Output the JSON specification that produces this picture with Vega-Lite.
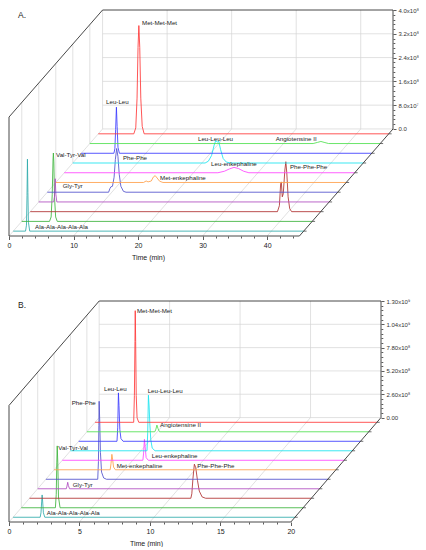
{
"$schema":"https://vega.github.io/schema/vega-lite/v6.json",
"padding":{"left":7,"top":7,"right":0,"bottom":0},
"bounds":"flush",
"spacing":65,
"config":{"view":{"stroke":null},"font":"Liberation Sans"},
"datasets":{
"A":[
{"kind":"edge","s":"e1","t":0,"i":0,"z":0},{"kind":"edge","s":"e1","t":45,"i":0,"z":0},
{"kind":"edge","s":"e2","t":0,"i":0,"z":0},{"kind":"edge","s":"e2","t":0,"i":4e8,"z":0},
{"kind":"edge","s":"e3","t":0,"i":4e8,"z":0},{"kind":"edge","s":"e3","t":0,"i":4e8,"z":1},
{"kind":"edge","s":"e4","t":0,"i":4e8,"z":1},{"kind":"edge","s":"e4","t":45,"i":4e8,"z":1},
{"kind":"edge","s":"e5","t":45,"i":0,"z":1},{"kind":"edge","s":"e5","t":45,"i":4e8,"z":1},
{"kind":"edge","s":"e6","t":45,"i":0,"z":0},{"kind":"edge","s":"e6","t":45,"i":0,"z":1},
{"kind":"grid","s":"f0","t":0,"i":0,"z":0},{"kind":"grid","s":"f0","t":0,"i":0,"z":1},
{"kind":"grid","s":"f10","t":10,"i":0,"z":0},{"kind":"grid","s":"f10","t":10,"i":0,"z":1},
{"kind":"grid","s":"f20","t":20,"i":0,"z":0},{"kind":"grid","s":"f20","t":20,"i":0,"z":1},
{"kind":"grid","s":"f30","t":30,"i":0,"z":0},{"kind":"grid","s":"f30","t":30,"i":0,"z":1},
{"kind":"grid","s":"f40","t":40,"i":0,"z":0},{"kind":"grid","s":"f40","t":40,"i":0,"z":1},
{"kind":"grid","s":"v0","t":0,"i":0,"z":1},{"kind":"grid","s":"v0","t":0,"i":4e8,"z":1},
{"kind":"grid","s":"v10","t":10,"i":0,"z":1},{"kind":"grid","s":"v10","t":10,"i":4e8,"z":1},
{"kind":"grid","s":"v20","t":20,"i":0,"z":1},{"kind":"grid","s":"v20","t":20,"i":4e8,"z":1},
{"kind":"grid","s":"v30","t":30,"i":0,"z":1},{"kind":"grid","s":"v30","t":30,"i":4e8,"z":1},
{"kind":"grid","s":"v40","t":40,"i":0,"z":1},{"kind":"grid","s":"v40","t":40,"i":4e8,"z":1},
{"kind":"grid","s":"h0","t":0,"i":0,"z":1},{"kind":"grid","s":"h0","t":45,"i":0,"z":1},
{"kind":"grid","s":"h1","t":0,"i":8e7,"z":1},{"kind":"grid","s":"h1","t":45,"i":8e7,"z":1},
{"kind":"grid","s":"h2","t":0,"i":1.6e8,"z":1},{"kind":"grid","s":"h2","t":45,"i":1.6e8,"z":1},
{"kind":"grid","s":"h3","t":0,"i":2.4e8,"z":1},{"kind":"grid","s":"h3","t":45,"i":2.4e8,"z":1},
{"kind":"grid","s":"h4","t":0,"i":3.2e8,"z":1},{"kind":"grid","s":"h4","t":45,"i":3.2e8,"z":1},
{"kind":"grid","s":"w1","t":0,"i":0,"k":1},{"kind":"grid","s":"w1","t":0,"i":4e8,"k":1},
{"kind":"grid","s":"w3","t":0,"i":0,"k":3},{"kind":"grid","s":"w3","t":0,"i":4e8,"k":3},
{"kind":"grid","s":"w5","t":0,"i":0,"k":5},{"kind":"grid","s":"w5","t":0,"i":4e8,"k":5},
{"kind":"grid","s":"w7","t":0,"i":0,"k":7},{"kind":"grid","s":"w7","t":0,"i":4e8,"k":7},
{"kind":"grid","s":"w9","t":0,"i":0,"k":9},{"kind":"grid","s":"w9","t":0,"i":4e8,"k":9},
{"kind":"tr","k":0,"t":0,"i":0},{"kind":"tr","k":0,"t":1.9,"i":0},{"kind":"tr","k":0,"t":2.05,"i":2e7},{"kind":"tr","k":0,"t":2.13,"i":1.2e8},{"kind":"tr","k":0,"t":2.2,"i":2.42e8},{"kind":"tr","k":0,"t":2.27,"i":1.3e8},{"kind":"tr","k":0,"t":2.35,"i":3e7},{"kind":"tr","k":0,"t":2.55,"i":0},{"kind":"tr","k":0,"t":45,"i":0},
{"kind":"tr","k":1,"t":0,"i":0},{"kind":"tr","k":1,"t":4.3,"i":0},{"kind":"tr","k":1,"t":4.55,"i":1.5e7},{"kind":"tr","k":1,"t":4.72,"i":9e7},{"kind":"tr","k":1,"t":4.85,"i":2.1e8},{"kind":"tr","k":1,"t":4.9,"i":2.3e8},{"kind":"tr","k":1,"t":4.97,"i":2.0e8},{"kind":"tr","k":1,"t":5.08,"i":8e7},{"kind":"tr","k":1,"t":5.25,"i":1.5e7},{"kind":"tr","k":1,"t":5.5,"i":0},{"kind":"tr","k":1,"t":45,"i":0},
{"kind":"tr","k":2,"t":0,"i":0},{"kind":"tr","k":2,"t":38.3,"i":0},{"kind":"tr","k":2,"t":38.6,"i":2e7},{"kind":"tr","k":2,"t":38.8,"i":9.5e7},{"kind":"tr","k":2,"t":38.9,"i":1.0e8},{"kind":"tr","k":2,"t":39.05,"i":5e7},{"kind":"tr","k":2,"t":39.2,"i":6e7},{"kind":"tr","k":2,"t":39.45,"i":1.4e8},{"kind":"tr","k":2,"t":39.6,"i":1.68e8},{"kind":"tr","k":2,"t":39.75,"i":1.3e8},{"kind":"tr","k":2,"t":39.95,"i":5e7},{"kind":"tr","k":2,"t":40.2,"i":1e7},{"kind":"tr","k":2,"t":40.5,"i":0},{"kind":"tr","k":2,"t":45,"i":0},
{"kind":"tr","k":3,"t":0,"i":0},{"kind":"tr","k":3,"t":2.3,"i":0},{"kind":"tr","k":3,"t":2.45,"i":2e7},{"kind":"tr","k":3,"t":2.55,"i":7.8e7},{"kind":"tr","k":3,"t":2.65,"i":2.5e7},{"kind":"tr","k":3,"t":2.8,"i":0},{"kind":"tr","k":3,"t":45,"i":0},
{"kind":"tr","k":4,"t":0,"i":0},{"kind":"tr","k":4,"t":9.5,"i":0},{"kind":"tr","k":4,"t":9.7,"i":1.2e7},{"kind":"tr","k":4,"t":9.85,"i":1.8e7},{"kind":"tr","k":4,"t":10.1,"i":2e7},{"kind":"tr","k":4,"t":10.35,"i":5e7},{"kind":"tr","k":4,"t":10.55,"i":1.1e8},{"kind":"tr","k":4,"t":10.75,"i":1.47e8},{"kind":"tr","k":4,"t":10.95,"i":1.2e8},{"kind":"tr","k":4,"t":11.15,"i":6e7},{"kind":"tr","k":4,"t":11.4,"i":2e7},{"kind":"tr","k":4,"t":11.8,"i":3e6},{"kind":"tr","k":4,"t":12.2,"i":0},{"kind":"tr","k":4,"t":45,"i":0},
{"kind":"tr","k":5,"t":0,"i":0},{"kind":"tr","k":5,"t":13.6,"i":0},{"kind":"tr","k":5,"t":14.0,"i":5e6},{"kind":"tr","k":5,"t":14.3,"i":2e6},{"kind":"tr","k":5,"t":14.8,"i":5e6},{"kind":"tr","k":5,"t":15.1,"i":1.8e7},{"kind":"tr","k":5,"t":15.4,"i":2.3e7},{"kind":"tr","k":5,"t":15.7,"i":1.5e7},{"kind":"tr","k":5,"t":16.1,"i":4e6},{"kind":"tr","k":5,"t":16.6,"i":0},{"kind":"tr","k":5,"t":45,"i":0},
{"kind":"tr","k":6,"t":0,"i":0},{"kind":"tr","k":6,"t":23.8,"i":0},{"kind":"tr","k":6,"t":24.8,"i":5e6},{"kind":"tr","k":6,"t":25.6,"i":1.3e7},{"kind":"tr","k":6,"t":26.3,"i":1.8e7},{"kind":"tr","k":6,"t":27.0,"i":1.4e7},{"kind":"tr","k":6,"t":27.8,"i":5e6},{"kind":"tr","k":6,"t":28.6,"i":0},{"kind":"tr","k":6,"t":45,"i":0},
{"kind":"tr","k":7,"t":0,"i":0},{"kind":"tr","k":7,"t":20.5,"i":0},{"kind":"tr","k":7,"t":21.0,"i":6e6},{"kind":"tr","k":7,"t":21.5,"i":2.5e7},{"kind":"tr","k":7,"t":21.9,"i":6e7},{"kind":"tr","k":7,"t":22.15,"i":7.6e7},{"kind":"tr","k":7,"t":22.4,"i":7e7},{"kind":"tr","k":7,"t":22.6,"i":7.4e7},{"kind":"tr","k":7,"t":22.9,"i":4.5e7},{"kind":"tr","k":7,"t":23.3,"i":1.5e7},{"kind":"tr","k":7,"t":23.8,"i":3e6},{"kind":"tr","k":7,"t":24.5,"i":0},{"kind":"tr","k":7,"t":45,"i":0},
{"kind":"tr","k":8,"t":0,"i":0},{"kind":"tr","k":8,"t":5.05,"i":0},{"kind":"tr","k":8,"t":5.2,"i":1.5e7},{"kind":"tr","k":8,"t":5.32,"i":8e7},{"kind":"tr","k":8,"t":5.44,"i":1.55e8},{"kind":"tr","k":8,"t":5.55,"i":9e7},{"kind":"tr","k":8,"t":5.68,"i":2e7},{"kind":"tr","k":8,"t":5.9,"i":0},{"kind":"tr","k":8,"t":45,"i":0},
{"kind":"tr","k":9,"t":0,"i":0},{"kind":"tr","k":9,"t":34.6,"i":0},{"kind":"tr","k":9,"t":35.3,"i":4e6},{"kind":"tr","k":9,"t":35.8,"i":7e6},{"kind":"tr","k":9,"t":36.3,"i":4e6},{"kind":"tr","k":9,"t":37.0,"i":0},{"kind":"tr","k":9,"t":45,"i":0},
{"kind":"tr","k":10,"t":0,"i":0},{"kind":"tr","k":10,"t":5.5,"i":0},{"kind":"tr","k":10,"t":5.8,"i":2e7},{"kind":"tr","k":10,"t":6.0,"i":1.2e8},{"kind":"tr","k":10,"t":6.15,"i":2.9e8},{"kind":"tr","k":10,"t":6.28,"i":3.64e8},{"kind":"tr","k":10,"t":6.42,"i":2.9e8},{"kind":"tr","k":10,"t":6.58,"i":1.2e8},{"kind":"tr","k":10,"t":6.8,"i":2.5e7},{"kind":"tr","k":10,"t":7.1,"i":0},{"kind":"tr","k":10,"t":45,"i":0},
{"kind":"lab","name":"Met-Met-Met","t":20.61,"i":7.16e8,"z":0},
{"kind":"lab","name":"Leu-Leu","t":15.03,"i":4.51e8,"z":0},
{"kind":"lab","name":"Leu-Leu-Leu","t":29.28,"i":3.26e8,"z":0},
{"kind":"lab","name":"Angiotensine II","t":41.32,"i":3.26e8,"z":0},
{"kind":"lab","name":"Leu-enkephaline","t":31.3,"i":2.41e8,"z":0},
{"kind":"lab","name":"Phe-Phe-Phe","t":43.54,"i":2.31e8,"z":0},
{"kind":"lab","name":"Phe-Phe","t":17.66,"i":2.61e8,"z":0},
{"kind":"lab","name":"Met-enkephaline","t":23.4,"i":1.96e8,"z":0},
{"kind":"lab","name":"Val-Tyr-Val","t":7.28,"i":2.72e8,"z":0},
{"kind":"lab","name":"Gly-Tyr","t":8.32,"i":1.68e8,"z":0},
{"kind":"lab","name":"Ala-Ala-Ala-Ala-Ala","t":4.03,"i":3.13e7,"z":0},
{"kind":"pl","name":"A.","t":1.39,"i":7.43e8,"z":0}
],
"B":[
{"kind":"edge","s":"e1","t":0,"i":0,"z":0},{"kind":"edge","s":"e1","t":20,"i":0,"z":0},
{"kind":"edge","s":"e2","t":0,"i":0,"z":0},{"kind":"edge","s":"e2","t":0,"i":1.3e9,"z":0},
{"kind":"edge","s":"e3","t":0,"i":1.3e9,"z":0},{"kind":"edge","s":"e3","t":0,"i":1.3e9,"z":1},
{"kind":"edge","s":"e4","t":0,"i":1.3e9,"z":1},{"kind":"edge","s":"e4","t":20,"i":1.3e9,"z":1},
{"kind":"edge","s":"e5","t":20,"i":0,"z":1},{"kind":"edge","s":"e5","t":20,"i":1.3e9,"z":1},
{"kind":"edge","s":"e6","t":20,"i":0,"z":0},{"kind":"edge","s":"e6","t":20,"i":0,"z":1},
{"kind":"grid","s":"f0","t":0,"i":0,"z":0},{"kind":"grid","s":"f0","t":0,"i":0,"z":1},
{"kind":"grid","s":"f5","t":5,"i":0,"z":0},{"kind":"grid","s":"f5","t":5,"i":0,"z":1},
{"kind":"grid","s":"f10","t":10,"i":0,"z":0},{"kind":"grid","s":"f10","t":10,"i":0,"z":1},
{"kind":"grid","s":"f15","t":15,"i":0,"z":0},{"kind":"grid","s":"f15","t":15,"i":0,"z":1},
{"kind":"grid","s":"v0","t":0,"i":0,"z":1},{"kind":"grid","s":"v0","t":0,"i":1.3e9,"z":1},
{"kind":"grid","s":"v5","t":5,"i":0,"z":1},{"kind":"grid","s":"v5","t":5,"i":1.3e9,"z":1},
{"kind":"grid","s":"v10","t":10,"i":0,"z":1},{"kind":"grid","s":"v10","t":10,"i":1.3e9,"z":1},
{"kind":"grid","s":"v15","t":15,"i":0,"z":1},{"kind":"grid","s":"v15","t":15,"i":1.3e9,"z":1},
{"kind":"grid","s":"h0","t":0,"i":0,"z":1},{"kind":"grid","s":"h0","t":20,"i":0,"z":1},
{"kind":"grid","s":"h1","t":0,"i":2.6e8,"z":1},{"kind":"grid","s":"h1","t":20,"i":2.6e8,"z":1},
{"kind":"grid","s":"h2","t":0,"i":5.2e8,"z":1},{"kind":"grid","s":"h2","t":20,"i":5.2e8,"z":1},
{"kind":"grid","s":"h3","t":0,"i":7.8e8,"z":1},{"kind":"grid","s":"h3","t":20,"i":7.8e8,"z":1},
{"kind":"grid","s":"h4","t":0,"i":1.04e9,"z":1},{"kind":"grid","s":"h4","t":20,"i":1.04e9,"z":1},
{"kind":"grid","s":"w1","t":0,"i":0,"k":1},{"kind":"grid","s":"w1","t":0,"i":1.3e9,"k":1},
{"kind":"grid","s":"w3","t":0,"i":0,"k":3},{"kind":"grid","s":"w3","t":0,"i":1.3e9,"k":3},
{"kind":"grid","s":"w5","t":0,"i":0,"k":5},{"kind":"grid","s":"w5","t":0,"i":1.3e9,"k":5},
{"kind":"grid","s":"w7","t":0,"i":0,"k":7},{"kind":"grid","s":"w7","t":0,"i":1.3e9,"k":7},
{"kind":"grid","s":"w9","t":0,"i":0,"k":9},{"kind":"grid","s":"w9","t":0,"i":1.3e9,"k":9},
{"kind":"tr","k":0,"t":0,"i":0},{"kind":"tr","k":0,"t":1.92,"i":0},{"kind":"tr","k":0,"t":1.98,"i":5e7},{"kind":"tr","k":0,"t":2.03,"i":1.8e8},{"kind":"tr","k":0,"t":2.06,"i":2.49e8},{"kind":"tr","k":0,"t":2.1,"i":1.7e8},{"kind":"tr","k":0,"t":2.15,"i":5e7},{"kind":"tr","k":0,"t":2.25,"i":0},{"kind":"tr","k":0,"t":20,"i":0},
{"kind":"tr","k":1,"t":0,"i":0},{"kind":"tr","k":1,"t":2.42,"i":0},{"kind":"tr","k":1,"t":2.48,"i":1.5e8},{"kind":"tr","k":1,"t":2.52,"i":5e8},{"kind":"tr","k":1,"t":2.55,"i":6.9e8},{"kind":"tr","k":1,"t":2.59,"i":5e8},{"kind":"tr","k":1,"t":2.64,"i":1.2e8},{"kind":"tr","k":1,"t":2.75,"i":0},{"kind":"tr","k":1,"t":20,"i":0},
{"kind":"tr","k":2,"t":0,"i":0},{"kind":"tr","k":2,"t":11.45,"i":0},{"kind":"tr","k":2,"t":11.52,"i":5e7},{"kind":"tr","k":2,"t":11.6,"i":2.2e8},{"kind":"tr","k":2,"t":11.7,"i":3.8e8},{"kind":"tr","k":2,"t":11.8,"i":3.4e8},{"kind":"tr","k":2,"t":11.92,"i":2.0e8},{"kind":"tr","k":2,"t":12.05,"i":8e7},{"kind":"tr","k":2,"t":12.25,"i":1.5e7},{"kind":"tr","k":2,"t":12.5,"i":0},{"kind":"tr","k":2,"t":20,"i":0},
{"kind":"tr","k":3,"t":0,"i":0},{"kind":"tr","k":3,"t":2.03,"i":0},{"kind":"tr","k":3,"t":2.08,"i":3e7},{"kind":"tr","k":3,"t":2.13,"i":7.2e7},{"kind":"tr","k":3,"t":2.18,"i":3.5e7},{"kind":"tr","k":3,"t":2.26,"i":0},{"kind":"tr","k":3,"t":20,"i":0},
{"kind":"tr","k":4,"t":0,"i":0},{"kind":"tr","k":4,"t":3.68,"i":0},{"kind":"tr","k":4,"t":3.73,"i":2e8},{"kind":"tr","k":4,"t":3.76,"i":6e8},{"kind":"tr","k":4,"t":3.78,"i":8.7e8},{"kind":"tr","k":4,"t":3.82,"i":6.5e8},{"kind":"tr","k":4,"t":3.87,"i":3e8},{"kind":"tr","k":4,"t":3.95,"i":8e7},{"kind":"tr","k":4,"t":4.1,"i":1.5e7},{"kind":"tr","k":4,"t":4.3,"i":0},{"kind":"tr","k":4,"t":20,"i":0},
{"kind":"tr","k":5,"t":0,"i":0},{"kind":"tr","k":5,"t":3.98,"i":0},{"kind":"tr","k":5,"t":4.04,"i":7e7},{"kind":"tr","k":5,"t":4.1,"i":1.72e8},{"kind":"tr","k":5,"t":4.15,"i":1.2e8},{"kind":"tr","k":5,"t":4.22,"i":3e7},{"kind":"tr","k":5,"t":4.35,"i":0},{"kind":"tr","k":5,"t":20,"i":0},
{"kind":"tr","k":6,"t":0,"i":0},{"kind":"tr","k":6,"t":5.72,"i":0},{"kind":"tr","k":6,"t":5.77,"i":8e7},{"kind":"tr","k":6,"t":5.83,"i":2.34e8},{"kind":"tr","k":6,"t":5.88,"i":1.5e8},{"kind":"tr","k":6,"t":5.95,"i":3e7},{"kind":"tr","k":6,"t":6.1,"i":0},{"kind":"tr","k":6,"t":20,"i":0},
{"kind":"tr","k":7,"t":0,"i":0},{"kind":"tr","k":7,"t":5.43,"i":0},{"kind":"tr","k":7,"t":5.48,"i":2e8},{"kind":"tr","k":7,"t":5.53,"i":6.2e8},{"kind":"tr","k":7,"t":5.58,"i":5e8},{"kind":"tr","k":7,"t":5.63,"i":3e8},{"kind":"tr","k":7,"t":5.7,"i":1.2e8},{"kind":"tr","k":7,"t":5.8,"i":3e7},{"kind":"tr","k":7,"t":6.0,"i":0},{"kind":"tr","k":7,"t":20,"i":0},
{"kind":"tr","k":8,"t":0,"i":0},{"kind":"tr","k":8,"t":2.72,"i":0},{"kind":"tr","k":8,"t":2.77,"i":1.5e8},{"kind":"tr","k":8,"t":2.82,"i":5.4e8},{"kind":"tr","k":8,"t":2.86,"i":4e8},{"kind":"tr","k":8,"t":2.92,"i":1.3e8},{"kind":"tr","k":8,"t":3.0,"i":3e7},{"kind":"tr","k":8,"t":3.15,"i":0},{"kind":"tr","k":8,"t":20,"i":0},
{"kind":"tr","k":9,"t":0,"i":0},{"kind":"tr","k":9,"t":4.82,"i":0},{"kind":"tr","k":9,"t":4.9,"i":3e7},{"kind":"tr","k":9,"t":4.97,"i":7.5e7},{"kind":"tr","k":9,"t":5.05,"i":3.5e7},{"kind":"tr","k":9,"t":5.15,"i":0},{"kind":"tr","k":9,"t":20,"i":0},
{"kind":"tr","k":10,"t":0,"i":0},{"kind":"tr","k":10,"t":2.74,"i":0},{"kind":"tr","k":10,"t":2.79,"i":3e8},{"kind":"tr","k":10,"t":2.83,"i":9e8},{"kind":"tr","k":10,"t":2.85,"i":1.245e9},{"kind":"tr","k":10,"t":2.88,"i":9e8},{"kind":"tr","k":10,"t":2.92,"i":3e8},{"kind":"tr","k":10,"t":2.98,"i":5e7},{"kind":"tr","k":10,"t":3.1,"i":0},{"kind":"tr","k":10,"t":20,"i":0},
{"kind":"lab","name":"Met-Met-Met","t":9.08,"i":2.353e9,"z":0},
{"kind":"lab","name":"Leu-Leu","t":6.74,"i":1.488e9,"z":0},
{"kind":"lab","name":"Leu-Leu-Leu","t":9.84,"i":1.461e9,"z":0},
{"kind":"lab","name":"Phe-Phe","t":4.45,"i":1.332e9,"z":0},
{"kind":"lab","name":"Angiotensine II","t":10.72,"i":1.079e9,"z":0},
{"kind":"lab","name":"Leu-enkephaline","t":10.13,"i":7.36e8,"z":0},
{"kind":"lab","name":"Met-enkephaline","t":7.64,"i":6.29e8,"z":0},
{"kind":"lab","name":"Phe-Phe-Phe","t":13.36,"i":6.29e8,"z":0},
{"kind":"lab","name":"Val-Tyr-Val","t":3.5,"i":8.3e8,"z":0},
{"kind":"lab","name":"Gly-Tyr","t":4.52,"i":4.13e8,"z":0},
{"kind":"lab","name":"Ala-Ala-Ala-Ala-Ala","t":2.68,"i":1.0e8,"z":0},
{"kind":"pl","name":"B.","t":0.64,"i":2.417e9,"z":0}
]
},
"vconcat":[
{
"width":384,"height":226,
"data":{"name":"A"},
"transform":[
{"calculate":"isValid(datum.z) ? datum.z : (datum.k + 0.5) / 11","as":"zz"},
{"calculate":"datum.t + datum.zz * 14.5","as":"x"},
{"calculate":"datum.i + datum.zz * 3.6e8","as":"y"},
{"calculate":"datum.x + 0.45","as":"x2"}
],
"encoding":{
 "x":{"field":"x","type":"quantitative","scale":{"domain":[0,59.5],"nice":false,"zero":false},
   "axis":{"orient":"bottom","values":[0,2,4,6,8,10,12,14,16,18,20,22,24,26,28,30,32,34,36,38,40,42,44],
   "labelExpr":"datum.value % 10 === 0 ? datum.label : ''","tickSize":{"condition":{"test":"datum.value % 10 === 0","value":3.5},"value":2},
   "domain":false,"grid":false,"tickColor":"#333","tickWidth":0.8,"labelFontSize":7,"labelColor":"#222","labelPadding":2,"labelFlush":false,"labelOverlap":false,
   "title":"Time (min)","titleFontSize":7,"titleFontWeight":"normal","titleColor":"#222","titlePadding":5,"titleX":139}},
 "y":{"field":"y","type":"quantitative","scale":{"domain":[0,7.6e8],"nice":false,"zero":false},
   "axis":{"orient":"right","values":[360000000,376000000,392000000,408000000,424000000,440000000,456000000,472000000,488000000,504000000,520000000,536000000,552000000,568000000,584000000,600000000,616000000,632000000,648000000,664000000,680000000,696000000,712000000,728000000,744000000,760000000],
   "labelExpr":"abs((datum.value-3.6e8)/8e7 - round((datum.value-3.6e8)/8e7)) < 0.01 ? ['0.0','8.0x10⁷','1.6x10⁸','2.4x10⁸','3.2x10⁸','4.0x10⁸'][round((datum.value-3.6e8)/8e7)] : ''",
   "tickSize":{"condition":{"test":"abs((datum.value-3.6e8)/8e7 - round((datum.value-3.6e8)/8e7)) < 0.01","value":3},"value":1.8},
   "domain":false,"grid":false,"tickColor":"#333","tickWidth":0.8,"labelFontSize":6,"labelColor":"#333","labelPadding":2,"labelFlush":false,"labelOverlap":false,"title":null}}
},
"layer":[
{"transform":[{"filter":"datum.kind === 'grid'"}],
 "mark":{"type":"line","stroke":"#d4d4d4","strokeWidth":0.7},
 "encoding":{"detail":{"field":"s"}}},
{"transform":[{"filter":"datum.kind === 'tr'"}],
 "mark":{"type":"line","strokeWidth":0.85},
 "encoding":{"color":{"field":"k","type":"nominal","scale":{"domain":[0,1,2,3,4,5,6,7,8,9,10],"range":["#2fabab","#3cb43c","#b03030","#b04cc0","#5050cc","#ff9f4a","#ff44ff","#18e4f0","#3a3aff","#50e050","#ff3838"]},"legend":null}}},
{"transform":[{"filter":"datum.kind === 'edge'"}],
 "mark":{"type":"line","stroke":"#333","strokeWidth":0.9},
 "encoding":{"detail":{"field":"s"}}},
{"transform":[{"filter":"datum.kind === 'tr' && datum.t === 45"}],
 "mark":{"type":"rule","stroke":"#333","strokeWidth":0.7},
 "encoding":{"x2":{"field":"x2"}}},
{"transform":[{"filter":"datum.kind === 'lab'"}],
 "mark":{"type":"text","align":"left","baseline":"middle","fontSize":6.2,"color":"#222"},
 "encoding":{"text":{"field":"name"}}},
{"transform":[{"filter":"datum.kind === 'pl'"}],
 "mark":{"type":"text","align":"left","baseline":"middle","fontSize":8.5,"color":"#222"},
 "encoding":{"text":{"field":"name"}}}
]
},
{
"width":372,"height":221,
"data":{"name":"B"},
"transform":[
{"calculate":"isValid(datum.z) ? datum.z : (datum.k + 0.5) / 11","as":"zz"},
{"calculate":"datum.t + datum.zz * 6.4","as":"x"},
{"calculate":"datum.i + datum.zz * 1.165e9","as":"y"},
{"calculate":"datum.x + 0.2","as":"x2"}
],
"encoding":{
 "x":{"field":"x","type":"quantitative","scale":{"domain":[0,26.4],"nice":false,"zero":false},
   "axis":{"orient":"bottom","values":[0,1,2,3,4,5,6,7,8,9,10,11,12,13,14,15,16,17,18,19,20],
   "labelExpr":"datum.value % 5 === 0 ? datum.label : ''","tickSize":{"condition":{"test":"datum.value % 5 === 0","value":3.5},"value":2},
   "domain":false,"grid":false,"tickColor":"#333","tickWidth":0.8,"labelFontSize":7,"labelColor":"#222","labelPadding":2,"labelFlush":false,"labelOverlap":false,
   "title":"Time (min)","titleFontSize":7,"titleFontWeight":"normal","titleColor":"#222","titlePadding":5,"titleX":137}},
 "y":{"field":"y","type":"quantitative","scale":{"domain":[0,2.465e9],"nice":false,"zero":false},
   "axis":{"orient":"right","values":[1165000000,1217000000,1269000000,1321000000,1373000000,1425000000,1477000000,1529000000,1581000000,1633000000,1685000000,1737000000,1789000000,1841000000,1893000000,1945000000,1997000000,2049000000,2101000000,2153000000,2205000000,2257000000,2309000000,2361000000,2413000000,2465000000],
   "labelExpr":"abs((datum.value-1.165e9)/2.6e8 - round((datum.value-1.165e9)/2.6e8)) < 0.01 ? ['0.00','2.60x10⁸','5.20x10⁸','7.80x10⁸','1.04x10⁹','1.30x10⁹'][round((datum.value-1.165e9)/2.6e8)] : ''",
   "tickSize":{"condition":{"test":"abs((datum.value-1.165e9)/2.6e8 - round((datum.value-1.165e9)/2.6e8)) < 0.01","value":3},"value":1.8},
   "domain":false,"grid":false,"tickColor":"#333","tickWidth":0.8,"labelFontSize":6,"labelColor":"#333","labelPadding":2,"labelFlush":false,"labelOverlap":false,"title":null}}
},
"layer":[
{"transform":[{"filter":"datum.kind === 'grid'"}],
 "mark":{"type":"line","stroke":"#d4d4d4","strokeWidth":0.7},
 "encoding":{"detail":{"field":"s"}}},
{"transform":[{"filter":"datum.kind === 'tr'"}],
 "mark":{"type":"line","strokeWidth":0.85},
 "encoding":{"color":{"field":"k","type":"nominal","scale":{"domain":[0,1,2,3,4,5,6,7,8,9,10],"range":["#2fabab","#3cb43c","#b03030","#b04cc0","#5050cc","#ff9f4a","#ff44ff","#18e4f0","#3a3aff","#50e050","#ff3838"]},"legend":null}}},
{"transform":[{"filter":"datum.kind === 'edge'"}],
 "mark":{"type":"line","stroke":"#333","strokeWidth":0.9},
 "encoding":{"detail":{"field":"s"}}},
{"transform":[{"filter":"datum.kind === 'tr' && datum.t === 20"}],
 "mark":{"type":"rule","stroke":"#333","strokeWidth":0.7},
 "encoding":{"x2":{"field":"x2"}}},
{"transform":[{"filter":"datum.kind === 'lab'"}],
 "mark":{"type":"text","align":"left","baseline":"middle","fontSize":6.2,"color":"#222"},
 "encoding":{"text":{"field":"name"}}},
{"transform":[{"filter":"datum.kind === 'pl'"}],
 "mark":{"type":"text","align":"left","baseline":"middle","fontSize":8.5,"color":"#222"},
 "encoding":{"text":{"field":"name"}}}
]
}
]
}
